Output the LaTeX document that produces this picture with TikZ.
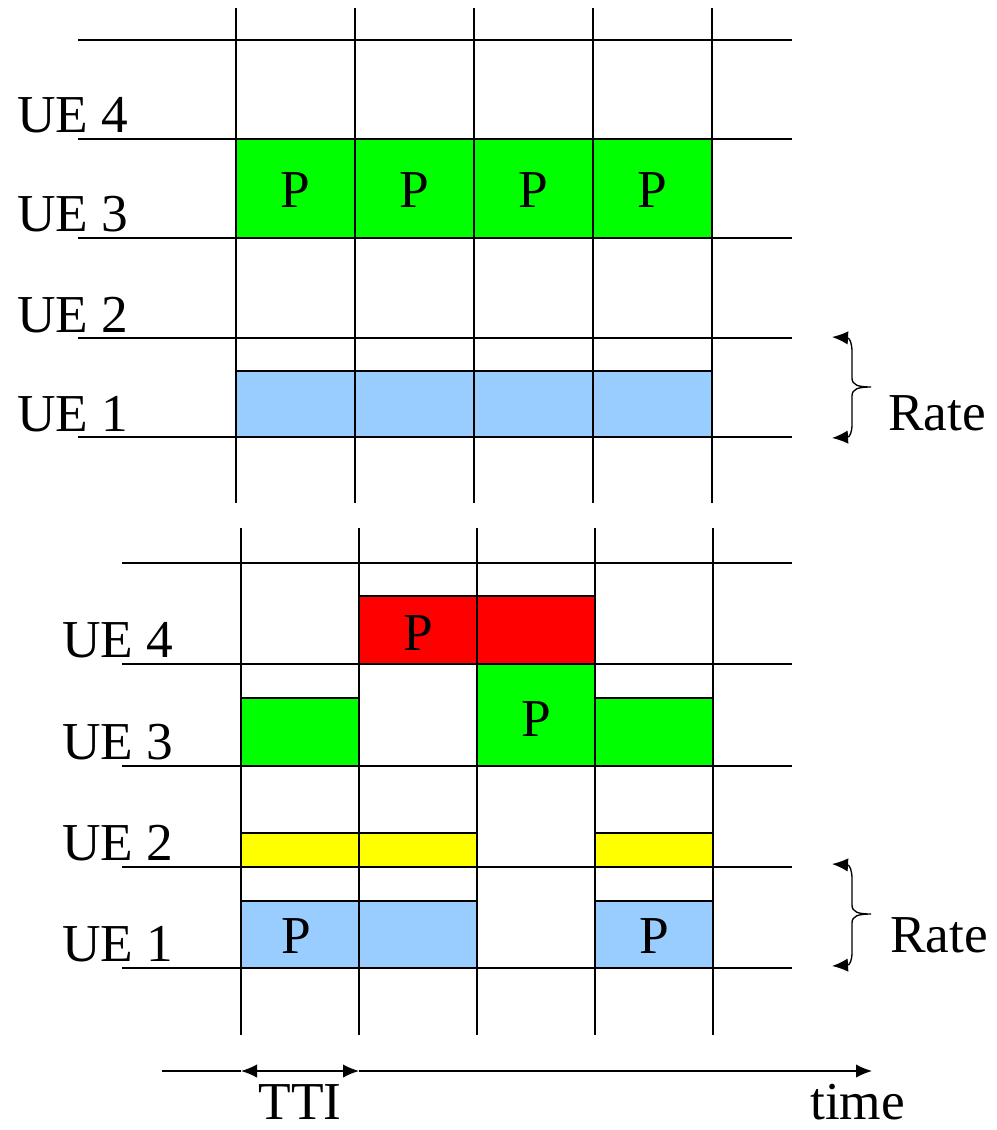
\documentclass[tikz,border=0pt]{standalone}
\usepackage{fontspec}
\setmainfont{Liberation Serif}
\usetikzlibrary{arrows.meta}
\definecolor{ugreen}{HTML}{00FF00}
\definecolor{ublue}{HTML}{99CCFF}
\definecolor{ured}{HTML}{FF0000}
\definecolor{uyellow}{HTML}{FFFF00}
\tikzset{
  grid/.style={line width=1pt},
  cell/.style={draw=black, line width=1pt},
  lbl/.style={anchor=base west, inner sep=0pt, font=\fontsize{40}{48}\selectfont},
  ptxt/.style={anchor=base, inner sep=0pt, font=\fontsize{40}{48}\selectfont},
  hd/.tip={Latex[length=12pt,width=10pt]},
  tip/.style={-hd, line width=1pt},
  dtip/.style={hd-hd, line width=1pt}
}
\begin{document}
\begin{tikzpicture}[x=0.75pt,y=-0.75pt]
\useasboundingbox (0,0) rectangle (996,1130);
% ---------- top panel ----------
\foreach \y in {40,139,238,338,437} \draw[grid] (78,\y) -- (792,\y);
\foreach \x in {236,355,474,593,712} \draw[grid] (\x,8) -- (\x,503);
\foreach \a/\b in {236/355,355/474,474/593,593/712}{
  \draw[cell, fill=ugreen] (\a,139) rectangle (\b,238);
  \draw[cell, fill=ublue] (\a,371) rectangle (\b,437);
}
\node[ptxt] (tp1) at (295.5,208) {P};
\node[ptxt] (tp2) at (414.5,208) {P};
\node[ptxt] (tp3) at (533.5,208) {P};
\node[ptxt] (tp4) at (652.5,208) {P};
\node[lbl] (tue4) at (17,133) {UE 4};
\node[lbl] (tue3) at (17,232) {UE 3};
\node[lbl] (tue2) at (17,332) {UE 2};
\node[lbl] (tue1) at (17,431) {UE 1};
\draw[dtip]
  (832,337) .. controls (850,338) and (852,344) .. (852,352) -- (852,378)
  .. controls (852,385) and (858,387) .. (871,387)
  .. controls (858,387) and (852,389) .. (852,396) -- (852,424)
  .. controls (852,432) and (850,437) .. (832,438);
\node[lbl] (trate) at (888,430) {Rate};
% ---------- bottom panel ----------
\foreach \y in {563,664,766,867,968} \draw[grid] (122,\y) -- (792,\y);
\foreach \x in {241,359,477,595,713} \draw[grid] (\x,528) -- (\x,1035);
\draw[cell, fill=ured] (359,596) rectangle (477,664);
\draw[cell, fill=ured] (477,596) rectangle (595,664);
\draw[cell, fill=ugreen] (241,698) rectangle (359,766);
\draw[cell, fill=ugreen] (477,664) rectangle (595,766);
\draw[cell, fill=ugreen] (595,698) rectangle (713,766);
\draw[cell, fill=uyellow] (241,833) rectangle (359,867);
\draw[cell, fill=uyellow] (359,833) rectangle (477,867);
\draw[cell, fill=uyellow] (595,833) rectangle (713,867);
\draw[cell, fill=ublue] (241,901) rectangle (359,968);
\draw[cell, fill=ublue] (359,901) rectangle (477,968);
\draw[cell, fill=ublue] (595,901) rectangle (713,968);
\node[ptxt] (bp1) at (418,650) {P};
\node[ptxt] (bp2) at (536,736) {P};
\node[ptxt] (bp3) at (296,953) {P};
\node[ptxt] (bp4) at (654,953) {P};
\node[lbl] (bue4) at (62,657) {UE 4};
\node[lbl] (bue3) at (62,759) {UE 3};
\node[lbl] (bue2) at (62,860) {UE 2};
\node[lbl] (bue1) at (62,961) {UE 1};
\draw[dtip]
  (832,864) .. controls (850,865) and (852,871) .. (852,879) -- (852,905)
  .. controls (852,912) and (858,914) .. (871,914)
  .. controls (858,914) and (852,916) .. (852,923) -- (852,952)
  .. controls (852,960) and (850,965) .. (832,966);
\node[lbl] (brate) at (890,952) {Rate};
% ---------- time axis ----------
\coordinate (ax0) at (162,1071);
\coordinate (tti0) at (241,1071);
\coordinate (tti1) at (359,1071);
\coordinate (ax1) at (872,1071);
\draw[line width=1pt] (ax0) -- (tti0);
\draw[dtip] (tti0) -- (tti1);
\draw[tip] (tti1) -- (ax1);
\node[ptxt] (tti) at (300,1119) {TTI};
\node[lbl] (time) at (810,1119) {time};
\end{tikzpicture}
\end{document}
